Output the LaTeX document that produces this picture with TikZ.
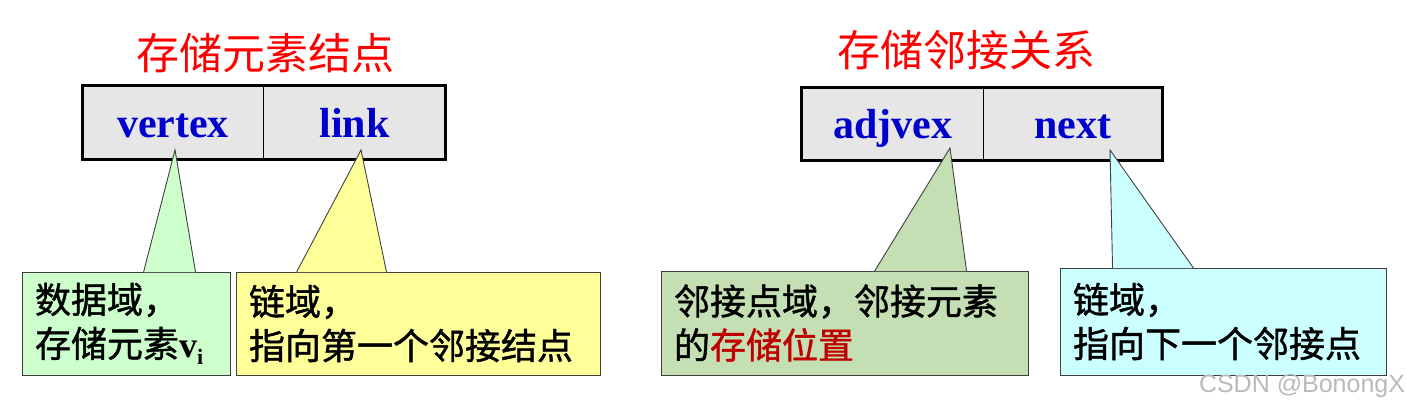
\documentclass[tikz,border=0pt]{standalone}
\usepackage{fontspec}
\setmainfont{Liberation Serif}
\setsansfont{Liberation Sans}
\newfontfamily\cjk{Noto Sans CJK SC}
\newfontfamily\cjknote[FakeBold=1.2]{Noto Sans CJK SC}
\usetikzlibrary{positioning}

\definecolor{fieldblue}{RGB}{0,0,204}
\definecolor{cellgray}{RGB}{230,230,230}
\definecolor{notegreen}{RGB}{204,255,204}
\definecolor{noteyellow}{RGB}{255,255,153}
\definecolor{noteolive}{RGB}{196,223,180}
\definecolor{notecyan}{RGB}{204,255,255}
\definecolor{darkred}{RGB}{192,0,0}

\tikzset{
  cell/.style={fill=cellgray, minimum height=73pt, inner sep=0pt,
    text height=29pt, text depth=0pt, text=fieldblue,
    font=\fontsize{42}{42}\selectfont\bfseries},
  title/.style={text=red, inner sep=0pt, font=\cjk\fontsize{43}{43}\selectfont},
  note/.style={draw=black!75, line width=0.9pt, inner xsep=13pt, inner ysep=0pt,
    align=left, font=\cjknote\fontsize{36}{44}\selectfont},
}

\begin{document}
\begin{tikzpicture}[x=1pt, y=-1pt]
	\useasboundingbox (0,0) rectangle (1407,412);

	% 1. Record of a vertex
	\node[title] (vtitle) at (265,53) {存储元素结点};
	\node[cell, minimum width=180pt] (vertex) at (173,122.5) {vertex};
	\node[cell, minimum width=182pt, right=0pt of vertex] (link) {link};
	\draw[line width=1pt] (vertex.north east) -- (vertex.south east);
	\draw[line width=3pt] (vertex.north west) rectangle (link.south east);

	% 2. Record of an edge
	\node[title] (etitle) at (966,50) {存储邻接关系};
	\node[cell, minimum width=181pt] (adjvex) at (892.5,124) {adjvex};
	\node[cell, minimum width=179pt, right=0pt of adjvex] (next) {next};
	\draw[line width=1pt] (adjvex.north east) -- (adjvex.south east);
	\draw[line width=3pt] (adjvex.north west) rectangle (next.south east);

	% 3. Callouts (box, then pointer up to the field)
	\node[note, fill=notegreen, text width=182pt, minimum height=103pt] (datanote) at (126,323.5)
		{数据域，\\存储元素{\rmfamily\bfseries v\raisebox{-7pt}{\fontsize{22}{22}\selectfont i}}};
	\coordinate (datatip) at (175,150);
	\filldraw[note, fill=notegreen] ([xshift=122pt, yshift=-0.6pt]datanote.north west) -- (datatip)
		-- ([xshift=174pt, yshift=-0.6pt]datanote.north west);

	\node[note, fill=noteyellow, text width=338pt, minimum height=103pt] (linknote) at (418,323.5)
		{链域，\\指向第一个邻接结点};
	\coordinate (linktip) at (361,150);
	\filldraw[note, fill=noteyellow] ([xshift=61pt, yshift=-0.6pt]linknote.north west) -- (linktip)
		-- ([xshift=151pt, yshift=-0.6pt]linknote.north west);

	\node[note, fill=noteolive, text width=341pt, minimum height=104pt] (adjnote) at (844.5,323)
		{邻接点域，邻接元素\\的\textcolor{darkred}{存储位置}};
	\coordinate (adjtip) at (950,148);
	\filldraw[note, fill=noteolive] ([xshift=214pt, yshift=-0.6pt]adjnote.north west) -- (adjtip)
		-- ([xshift=306pt, yshift=-0.6pt]adjnote.north west);

	\node[note, fill=notecyan, text width=300pt, minimum height=107pt] (nextnote) at (1223,321.5)
		{链域，\\指向下一个邻接点};
	\coordinate (nexttip) at (1110,150);
	\filldraw[note, fill=notecyan] ([xshift=53pt, yshift=-0.6pt]nextnote.north west) -- (nexttip)
		-- ([xshift=134pt, yshift=-0.6pt]nextnote.north west);

	% 4. Watermark
	\node[text=black!27, inner sep=0pt, font=\sffamily\fontsize{25}{25}\selectfont] (mark) at (1302,386) {CSDN @BonongX};
\end{tikzpicture}
\end{document}
